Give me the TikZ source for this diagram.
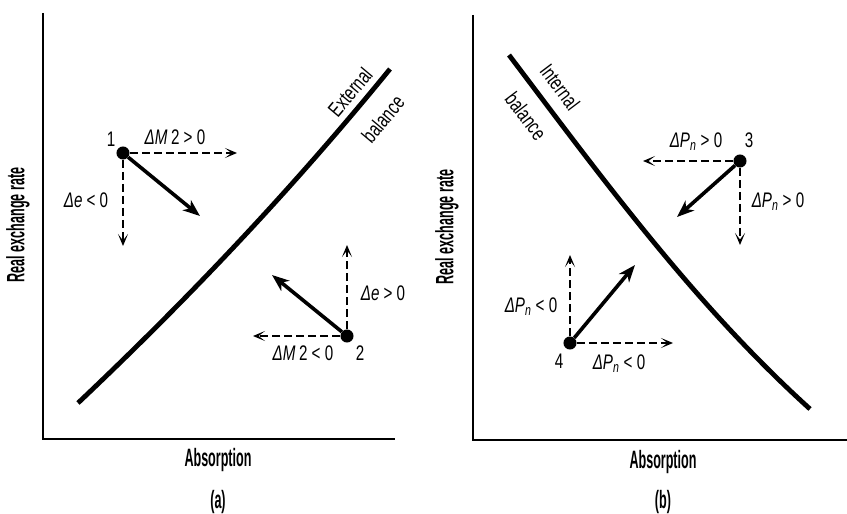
\documentclass[tikz,border=0pt]{standalone}
\usepackage{fontspec}
\setmainfont{Liberation Sans}[FakeStretch=0.72]
\newfontfamily\axisfont{Liberation Sans}[FakeStretch=0.5]
\usetikzlibrary{arrows.meta}

\tikzset{
  axisline/.style={line width=1.6pt},
  balcurve/.style={line width=4.8pt},
  movearrow/.style={line width=3.6pt,-{Stealth[length=17pt,width=13pt,inset=5pt]}},
  partarrow/.style={line width=1.8pt,dash pattern=on 8pt off 4pt,-{Stealth[length=12pt,width=10pt,inset=6.5pt]}},
  dot/.style={circle,fill,inner sep=0pt,minimum size=13pt},
  lbl/.style={font=\fontsize{21}{23}\selectfont,inner sep=1pt},
  axislbl/.style={font=\axisfont\bfseries\fontsize{25}{27}\selectfont,inner sep=1pt},
}

\begin{document}
\begin{tikzpicture}[x=0.035cm,y=-0.035cm]
    \useasboundingbox (0,0) rectangle (847,514);
    % (a) external balance
    \coordinate (aTop) at (43,13);
    \coordinate (aO) at (43,439);
    \coordinate (aEnd) at (395,439);
    \draw[axisline] (aTop) -- (aO) -- (aEnd);
    \coordinate (ebLow) at (78,403);
    \coordinate (ebHigh) at (390,69);
    \draw[balcurve] (ebLow) .. controls (189,298) and (293,188) .. (ebHigh);
    \node[lbl,rotate=50] (ebExt) at (350,92) {External};
    \node[lbl,rotate=50] (ebBal) at (383,119) {balance};
    \node[axislbl,rotate=90] (aYlbl) at (18,225) {Real exchange rate};
    \node[axislbl] (aXlbl) at (218,460) {Absorption};
    \node[axislbl] (aTag) at (218,502) {(a)};
    % point 1
    \node[dot] (p1) at (123,153) {};
    \node[lbl] (p1num) at (111,139) {1};
    \coordinate (p1e) at (237,153);
    \coordinate (p1s) at (123,246);
    \coordinate (p1m) at (200,216);
    \draw[partarrow] (p1) -- (p1e);
    \draw[partarrow] (p1) -- (p1s);
    \draw[movearrow] (p1) -- (p1m);
    \node[lbl] (dM1) at (175,137) {{\itshape ΔM}\,2 > 0};
    \node[lbl] (de1) at (86,200) {{\itshape Δe} < 0};
    % point 2
    \node[dot] (p2) at (347,336) {};
    \node[lbl] (p2num) at (360,353) {2};
    \coordinate (p2n) at (347,245);
    \coordinate (p2w) at (253,336);
    \coordinate (p2m) at (272,275);
    \draw[partarrow] (p2) -- (p2n);
    \draw[partarrow] (p2) -- (p2w);
    \draw[movearrow] (p2) -- (p2m);
    \node[lbl] (de2) at (383,293) {{\itshape Δe} > 0};
    \node[lbl] (dM2) at (303,353) {{\itshape ΔM}\,2 < 0};
    % (b) internal balance
    \coordinate (bTop) at (473,15);
    \coordinate (bO) at (473,440);
    \coordinate (bEnd) at (847,440);
    \draw[axisline] (bTop) -- (bO) -- (bEnd);
    \coordinate (ibHigh) at (509,55);
    \coordinate (ibLow) at (810,409);
    \draw[balcurve] (ibHigh) .. controls (602,178) and (694,304) .. (ibLow);
    \node[lbl,rotate=-53] (ibInt) at (560,87) {Internal};
    \node[lbl,rotate=-53] (ibBal) at (526,116) {balance};
    \node[axislbl,rotate=90] (bYlbl) at (447,227) {Real exchange rate};
    \node[axislbl] (bXlbl) at (663,462) {Absorption};
    \node[axislbl] (bTag) at (663,502) {(b)};
    % point 3
    \node[dot] (p3) at (740,161) {};
    \node[lbl] (p3num) at (749,140) {3};
    \coordinate (p3w) at (643,161);
    \coordinate (p3s) at (740,245);
    \coordinate (p3m) at (677,217);
    \draw[partarrow] (p3) -- (p3w);
    \draw[partarrow] (p3) -- (p3s);
    \draw[movearrow] (p3) -- (p3m);
    \node[lbl] (dP3a) at (696,142) {{\itshape ΔP\textsubscript{n}} > 0};
    \node[lbl] (dP3b) at (778,202) {{\itshape ΔP\textsubscript{n}} > 0};
    % point 4
    \node[dot] (p4) at (570,343) {};
    \node[lbl] (p4num) at (559,361) {4};
    \coordinate (p4n) at (570,255);
    \coordinate (p4e) at (673,343);
    \coordinate (p4m) at (635,265);
    \draw[partarrow] (p4) -- (p4n);
    \draw[partarrow] (p4) -- (p4e);
    \draw[movearrow] (p4) -- (p4m);
    \node[lbl] (dP4a) at (531,307) {{\itshape ΔP\textsubscript{n}} < 0};
    \node[lbl] (dP4b) at (619,364) {{\itshape ΔP\textsubscript{n}} < 0};
\end{tikzpicture}
\end{document}
